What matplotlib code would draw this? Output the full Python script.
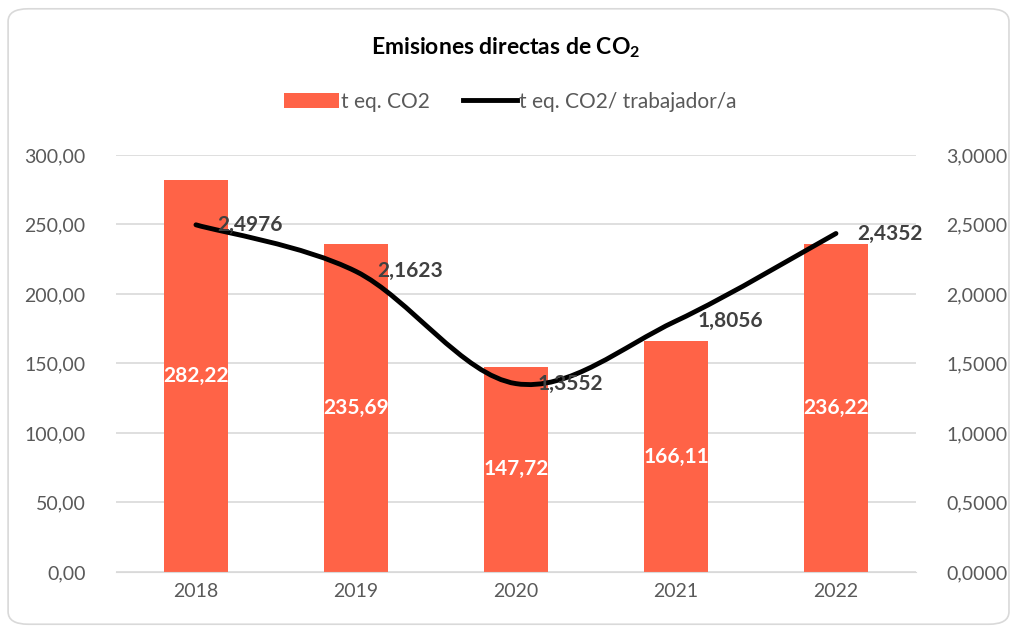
import matplotlib.pyplot as plt
from matplotlib.path import Path
from matplotlib.patches import PathPatch, FancyBboxPatch
from matplotlib.lines import Line2D
from matplotlib.patches import Patch

years = ["2018", "2019", "2020", "2021", "2022"]
t_co2 = [282.22, 235.69, 147.72, 166.11, 236.22]
t_co2_trab = [2.4976, 2.1623, 1.3552, 1.8056, 2.4352]

bar_color = "#FF6347"
text_gray = "#595959"

plt.rcParams['font.family'] = ['Lato', 'DejaVu Sans']
plt.rcParams['mathtext.fontset'] = 'custom'
plt.rcParams['mathtext.rm'] = 'Lato'
plt.rcParams['mathtext.bf'] = 'Lato:bold'

fig = plt.figure(figsize=(10.11, 6.28), dpi=100)
ax = fig.add_axes([0.1147, 0.0892, 0.7913, 0.664])
ax2 = ax.twinx()

x = list(range(len(years)))
ax.bar(x, t_co2, width=0.4, color=bar_color, zorder=2)
ax.set_xlim(-0.5, len(years) - 0.5)
ax.set_ylim(0, 300)
ax.set_yticks([0, 50, 100, 150, 200, 250, 300])
ax.set_yticklabels([("%.2f" % v).replace(".", ",") for v in [0, 50, 100, 150, 200, 250, 300]])
ax.set_xticks(x)
ax.set_xticklabels(years)
ax.grid(axis="y", color="#d9d9d9", linewidth=1.2, zorder=0)
ax.set_axisbelow(True)
for s in ["top", "left", "right"]:
    ax.spines[s].set_visible(False)
ax.spines["bottom"].set_color("#d9d9d9")
ax.tick_params(axis="both", length=0, labelsize=14, colors=text_gray, pad=8)
ax.tick_params(axis="y", pad=22)

for xi, v in zip(x, t_co2):
    ax.text(xi, v / 2, ("%.2f" % v).replace(".", ","), ha="center", va="center",
            color="white", fontsize=15, fontweight="bold", zorder=4)

# linea suavizada (bezier tipo Catmull-Rom, como la de Excel)
ax2.set_ylim(0, 3)
ax2.set_yticks([0, 0.5, 1, 1.5, 2, 2.5, 3])
ax2.set_yticklabels([("%.4f" % v).replace(".", ",") for v in [0, 0.5, 1, 1.5, 2, 2.5, 3]])
ax2.tick_params(axis="y", length=0, labelsize=14, colors=text_gray, pad=22)
for s in ["top", "left", "right", "bottom"]:
    ax2.spines[s].set_visible(False)

pts = list(zip(x, t_co2_trab))
verts = [pts[0]]
codes = [Path.MOVETO]
k = 1 / 6
for i in range(len(pts) - 1):
    p0 = pts[i - 1] if i > 0 else pts[i]
    p1 = pts[i]
    p2 = pts[i + 1]
    p3 = pts[i + 2] if i + 2 < len(pts) else pts[i + 1]
    c1 = (p1[0] + (p2[0] - p0[0]) * k, p1[1] + (p2[1] - p0[1]) * k)
    c2 = (p2[0] - (p3[0] - p1[0]) * k, p2[1] - (p3[1] - p1[1]) * k)
    verts += [c1, c2, p2]
    codes += [Path.CURVE4] * 3
ax2.add_patch(PathPatch(Path(verts, codes), facecolor="none", edgecolor="black",
                        linewidth=3.5, capstyle="round", zorder=5))

for xi, v in zip(x, t_co2_trab):
    ax2.text(xi + 0.135, v, ("%.4f" % v).replace(".", ","), ha="left", va="center",
             color="#404040", fontsize=15, fontweight="bold", zorder=6)

fig.text(0.5, 0.925, "Emisiones directas de CO$_{\\mathbf{2}}$", ha="center", va="center",
         fontsize=16.5, fontweight="bold", color="black")

handles = [Patch(facecolor=bar_color), Line2D([0], [0], color="black", linewidth=3.5)]
fig.legend(handles, ["t eq. CO2", "t eq. CO2/ trabajador/a"], loc="center",
           bbox_to_anchor=(0.505, 0.838), ncol=2, frameon=False, fontsize=15,
           labelcolor=text_gray, handlelength=2.6, handletextpad=0.1, columnspacing=1.6)

fig.patches.append(FancyBboxPatch((0.008, 0.006), 0.99, 0.98, boxstyle="round,pad=0,rounding_size=0.02",
                                  transform=fig.transFigure, facecolor="none",
                                  edgecolor="#d9d9d9", linewidth=1.2))

fig.savefig("out.png", dpi=100)
